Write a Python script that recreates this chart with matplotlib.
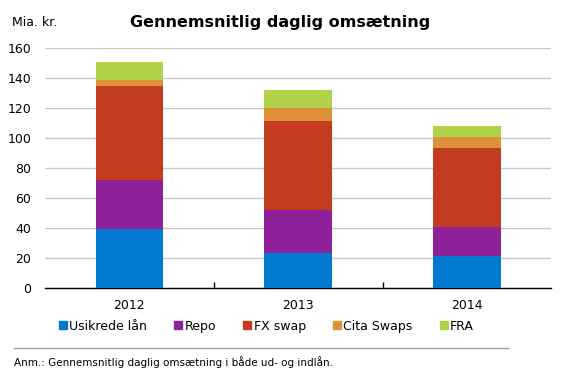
import numpy as np
import matplotlib.pyplot as plt
from matplotlib.lines import Line2D

years = ["2012", "2013", "2014"]
series = ["Usikrede lån", "Repo", "FX swap", "Cita Swaps", "FRA"]
usikrede = [39.5, 23.5, 21.5]
repo = [32.7, 28.7, 19.4]
fx_swap = [62.7, 59.3, 52.6]
cita = [4.0, 8.7, 7.4]
fra = [12.0, 12.0, 7.3]
colors = ["#0279D1", "#8E219A", "#C33C20", "#DE9139", "#B0D24A"]

fig = plt.figure(figsize=(5.74, 3.78), dpi=100)
ax = fig.add_axes([0.0784, 0.238, 0.882, 0.634])

x = np.arange(len(years))
bottom = np.zeros(len(years))
for vals, col in zip([usikrede, repo, fx_swap, cita, fra], colors):
    ax.bar(x, vals, 0.4, bottom=bottom, color=col, zorder=3)
    bottom += np.array(vals)

ax.set_xlim(-0.5, 2.5)
ax.set_ylim(0, 160)
ax.set_yticks(range(0, 161, 20))
ax.yaxis.grid(True, color="#C8C8C8", linewidth=1)
ax.set_axisbelow(True)
for s in ["top", "right", "left"]:
    ax.spines[s].set_visible(False)
ax.spines["bottom"].set_linewidth(1)
ax.tick_params(axis="y", length=0, labelsize=9, pad=10)
ax.set_xticks(x)
ax.set_xticklabels(years, fontsize=9)
ax.tick_params(axis="x", length=0, pad=8)
ax.set_xticks([0.5, 1.5], minor=True)
ax.tick_params(axis="x", which="minor", direction="in", length=4, width=1)

fig.text(0.021, 0.94, "Mia. kr.", fontsize=9, va="center")
fig.text(0.488, 0.94, "Gennemsnitlig daglig omsætning", fontsize=11.5,
         fontweight="bold", ha="center", va="center")

handles = [Line2D([], [], marker="s", linestyle="", color=c, markersize=6) for c in colors]
fig.legend(handles, series, loc="center", bbox_to_anchor=(0.462, 0.137), ncol=5,
           frameon=False, fontsize=9, handletextpad=0.0, columnspacing=2.0,
           handlelength=1.0)

fig.add_artist(Line2D([0.025, 0.885], [0.079, 0.079], color="#999999", linewidth=1))
fig.text(0.025, 0.042, "Anm.: Gennemsnitlig daglig omsætning i både ud- og indlån.",
         fontsize=7.5, va="center")

fig.savefig("out.png", dpi=100)
